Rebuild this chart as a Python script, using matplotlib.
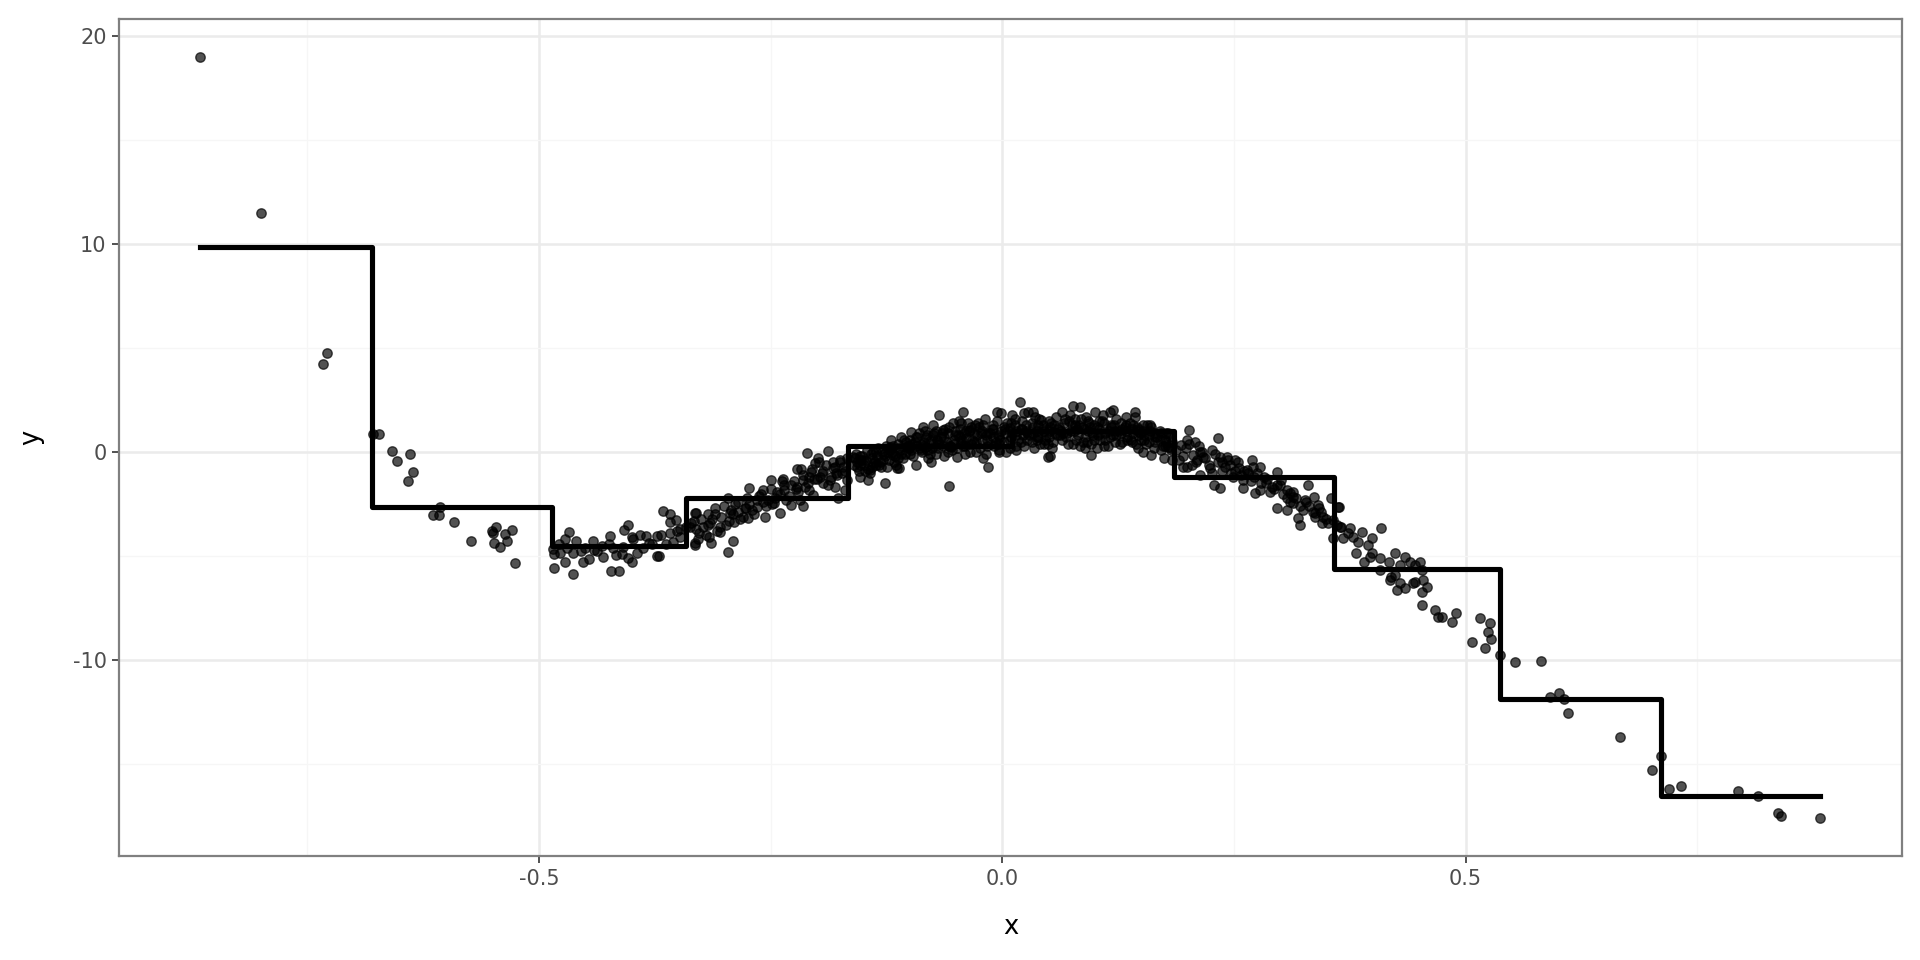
import matplotlib
matplotlib.use('Agg')
import matplotlib.pyplot as plt
from matplotlib.ticker import FixedLocator

# points, split by region of the curve
x_left = [-0.866, -0.800, -0.729, -0.733, -0.679, -0.673, -0.659, -0.653, -0.639, -0.636,
          -0.641, -0.607, -0.614, -0.608, -0.592, -0.573, -0.551, -0.550, -0.546, -0.537,
          -0.529, -0.548, -0.542, -0.534, -0.526]
y_left = [18.98, 11.48, 4.75, 4.25, 0.85, 0.85, 0.05, -0.43, -0.08, -0.96,
          -1.38, -2.63, -3.01, -3.03, -3.37, -4.26, -3.78, -3.88, -3.61, -3.94,
          -3.77, -4.39, -4.55, -4.28, -5.34]

x_trough = [-0.485, -0.484, -0.484, -0.472, -0.468, -0.472, -0.477, -0.463, -0.463, -0.455,
            -0.452, -0.446, -0.442, -0.437, -0.431, -0.423, -0.424, -0.417, -0.422, -0.414,
            -0.409, -0.408, -0.404, -0.400, -0.404, -0.399, -0.394, -0.391, -0.384, -0.381,
            -0.373, -0.373, -0.370, -0.366, -0.359, -0.358, -0.352, -0.363, -0.355, -0.351,
            -0.348, -0.341, -0.332, -0.332, -0.336,
            -0.478, -0.470, -0.460, -0.450, -0.440, -0.432, -0.420, -0.410, -0.398, -0.388,
            -0.378, -0.368, -0.358, -0.348]
y_trough = [-4.68, -4.89, -5.59, -4.18, -3.85, -5.29, -4.87, -4.87, -5.85, -4.75,
            -5.27, -5.14, -4.28, -4.77, -5.03, -4.04, -4.42, -4.95, -5.72, -5.74,
            -4.55, -3.75, -3.51, -4.07, -5.08, -5.29, -4.87, -3.99, -4.02, -4.39,
            -4.04, -5.00, -5.00, -2.82, -3.00, -3.35, -3.27, -4.44, -4.31, -3.78,
            -4.07, -3.59, -2.95, -4.39, -3.43,
            -4.4, -4.6, -4.3, -4.6, -4.7, -4.5, -4.6, -4.9, -4.2, -4.6,
            -4.4, -4.0, -3.9, -3.7]

x_rise = [-0.337, -0.330, -0.331, -0.327, -0.318, -0.316, -0.314, -0.310, -0.305, -0.296,
          -0.296, -0.291, -0.294, -0.289, -0.285, -0.276, -0.274, -0.273, -0.265, -0.258,
          -0.256, -0.250, -0.246, -0.240, -0.237, -0.235, -0.228, -0.222, -0.215, -0.222,
          -0.217, -0.215, -0.211, -0.208, -0.204, -0.206, -0.202, -0.199, -0.197, -0.193,
          -0.188, -0.186, -0.181, -0.177, -0.183, -0.179, -0.175, -0.172, -0.168, -0.170,
          -0.330, -0.325, -0.320, -0.315, -0.310, -0.305, -0.300, -0.295, -0.290, -0.285,
          -0.280, -0.275, -0.270, -0.265, -0.260, -0.255, -0.250, -0.245, -0.240, -0.235,
          -0.230, -0.225, -0.220, -0.215, -0.210, -0.205, -0.200, -0.195, -0.190, -0.185,
          -0.180, -0.175, -0.170,
          -0.328, -0.318, -0.308, -0.298, -0.288, -0.278, -0.268, -0.258, -0.248, -0.238,
          -0.228, -0.218, -0.208, -0.198, -0.188, -0.178,
          -0.333, -0.323, -0.313, -0.303, -0.293, -0.283, -0.273, -0.263, -0.253, -0.243,
          -0.233, -0.223, -0.213, -0.203, -0.193, -0.183, -0.173, -0.167]
y_rise = [-3.59, -2.95, -4.47, -3.91, -3.51, -4.07, -4.39, -2.71, -3.83, -2.23,
          -4.82, -4.26, -2.95, -3.35, -2.87, -2.71, -3.19, -1.75, -2.63, -1.83,
          -3.11, -1.35, -2.47, -2.95, -1.30, -1.83, -2.55, -1.67, -2.60, -0.83,
          -0.83, -1.35, -0.06, -1.83, -2.07, -0.95, -0.54, -0.27, -1.19, -1.51,
          0.05, -1.35, -1.67, -2.23, -0.79, -1.02, -0.47, -0.71, -1.35, -1.83,
          -3.7, -3.2, -4.0, -3.4, -3.0, -3.6, -2.6, -3.3, -3.0, -2.4,
          -3.1, -2.2, -2.8, -2.3, -2.0, -2.6, -1.8, -2.2, -2.0, -1.6,
          -2.1, -1.4, -1.9, -1.1, -1.5, -0.8, -1.3, -1.0, -0.6, -1.2,
          -0.7, -0.4, -0.9,
          -4.2, -3.0, -3.8, -3.5, -2.5, -2.7, -3.0, -2.4, -2.5, -1.4,
          -1.6, -2.3, -1.2, -0.5, -1.6, -1.1,
          -3.3, -3.6, -3.2, -3.1, -2.8, -3.2, -2.5, -2.1, -2.3, -1.9,
          -2.3, -1.8, -1.7, -1.3, -0.9, -0.5, -1.0, -0.3]

x_core = [-0.161, -0.157, -0.154, -0.150, -0.145, -0.143, -0.139, -0.136, -0.132, -0.127,
          -0.121, -0.118, -0.114, -0.111, -0.120, -0.109, -0.103, -0.098, -0.093, -0.086,
          -0.082, -0.075, -0.077, -0.068, -0.064, -0.057, -0.055, -0.049, -0.044, -0.042,
          -0.039, -0.035, -0.026, -0.021, -0.015, -0.010, -0.006, -0.001, -0.003, 0.008,
          0.015, 0.019, 0.023, 0.033, 0.037, 0.042, 0.049, 0.051, 0.076, 0.084,
          0.089, 0.096, 0.102, 0.120, 0.143, 0.143, 0.152, 0.161, 0.156, 0.174,
          0.179, 0.183,
          -0.158, -0.155, -0.152, -0.149, -0.146, -0.143, -0.140, -0.137, -0.134, -0.131,
          -0.128, -0.125, -0.122, -0.119, -0.116, -0.113, -0.110, -0.107, -0.104, -0.101,
          -0.157, -0.151, -0.145, -0.139, -0.133, -0.127, -0.121, -0.115, -0.109, -0.103,
          -0.099, -0.096, -0.093, -0.090, -0.087, -0.084, -0.081, -0.078, -0.075, -0.072,
          -0.069, -0.066, -0.063, -0.060, -0.057, -0.054, -0.051,
          -0.098, -0.092, -0.086, -0.080, -0.074, -0.068, -0.062, -0.056, -0.052,
          -0.097, -0.089, -0.083, -0.077, -0.071, -0.065, -0.059, -0.053,
          -0.049, -0.046, -0.043, -0.040, -0.037, -0.034, -0.031, -0.028, -0.025, -0.022,
          -0.019, -0.016, -0.013, -0.010, -0.007, -0.004, -0.001,
          -0.048, -0.042, -0.036, -0.030, -0.024, -0.018, -0.012, -0.006, -0.002,
          -0.047, -0.041, -0.035, -0.029, -0.023, -0.017, -0.011, -0.005,
          0.002, 0.005, 0.008, 0.011, 0.014, 0.017, 0.020, 0.023, 0.026, 0.029,
          0.032, 0.035, 0.038, 0.041, 0.044, 0.047, 0.050,
          0.003, 0.009, 0.015, 0.021, 0.027, 0.033, 0.039, 0.045, 0.049,
          0.004, 0.010, 0.016, 0.022, 0.028, 0.034, 0.040, 0.046,
          0.052, 0.055, 0.058, 0.061, 0.064, 0.067, 0.070, 0.073, 0.076, 0.079,
          0.082, 0.085, 0.088, 0.091, 0.094, 0.097, 0.100,
          0.053, 0.059, 0.065, 0.071, 0.077, 0.083, 0.089, 0.095, 0.099,
          0.054, 0.060, 0.066, 0.072, 0.078, 0.084, 0.090, 0.096,
          0.102, 0.105, 0.108, 0.111, 0.114, 0.117, 0.120, 0.123, 0.126, 0.129,
          0.132, 0.135, 0.138, 0.141, 0.144, 0.147, 0.150,
          0.103, 0.109, 0.115, 0.121, 0.127, 0.133, 0.139, 0.145, 0.149,
          0.104, 0.110, 0.116, 0.122, 0.128, 0.134, 0.140, 0.146,
          0.152, 0.155, 0.158, 0.161, 0.164, 0.167, 0.170, 0.173, 0.176, 0.179, 0.182,
          0.153, 0.159, 0.165, 0.171, 0.177, 0.183,
          -0.160, -0.154, -0.148, -0.142, -0.136, -0.130, -0.124, -0.118, -0.112, -0.106,
          -0.100, -0.094, -0.088, -0.082, -0.076, -0.070, -0.064, -0.058, -0.052, -0.046,
          -0.040, -0.034, -0.028, -0.022, -0.016, -0.010, -0.004, 0.002, 0.008, 0.014,
          0.020, 0.026, 0.032, 0.038, 0.044, 0.050, 0.056, 0.062, 0.068, 0.074,
          0.080, 0.086, 0.092, 0.098, 0.104, 0.110, 0.116, 0.122, 0.128, 0.134,
          0.140, 0.146, 0.152, 0.158, 0.164, 0.170, 0.176, 0.181,
          -0.159, -0.153, -0.147, -0.141, -0.135, -0.129, -0.123, -0.117, -0.111, -0.105,
          -0.099, -0.093, -0.087, -0.081, -0.075, -0.069, -0.063, -0.057, -0.051, -0.045,
          -0.039, -0.033, -0.027, -0.021, -0.015, -0.009, -0.003, 0.003, 0.009, 0.015,
          0.021, 0.027, 0.033, 0.039, 0.045, 0.051, 0.057, 0.063, 0.069, 0.075,
          0.081, 0.087, 0.093, 0.099, 0.105, 0.111, 0.117, 0.123, 0.129, 0.135,
          0.141, 0.147, 0.153, 0.159, 0.165, 0.171, 0.177, 0.182]
y_core = [-0.23, -0.71, -1.19, -0.38, -1.35, -0.87, -0.54, 0.01, -0.47, -1.51,
          0.25, -0.14, -0.79, -0.79, 0.58, 0.74, 0.25, 0.98, -0.63, 1.22,
          0.25, 1.30, -0.47, 1.78, 1.06, -1.63, 0.25, -0.23, 1.38, 1.94,
          0.66, 1.06, 1.38, -0.30, -0.74, 0.74, 1.94, 1.86, 0.01, 1.14,
          0.10, 2.42, 1.86, 1.94, 0.74, 1.54, -0.23, -0.19, 2.21, 2.15,
          0.18, -0.14, 0.18, 2.02, 1.94, 1.67, 0.01, -0.14, 1.30, -0.30,
          0.25, -0.38,
          -0.1, -0.9, -0.4, -0.6, 0.1, -1.0, -0.3, -0.5, 0.2, -0.7,
          -0.1, 0.3, -0.4, 0.0, -0.2, 0.4, 0.1, -0.3, 0.5, 0.2,
          -0.5, -0.2, -0.8, 0.0, -0.6, -0.2, 0.1, -0.6, -0.1, 0.3,
          0.6, -0.2, 0.3, 0.9, 0.0, 0.5, 0.8, -0.1, 0.4, 1.0,
          0.2, 0.7, -0.2, 0.5, 1.2, 0.1, 0.8,
          0.1, 0.7, 0.3, -0.3, 0.9, 0.4, 1.1, 0.3, 0.6,
          0.4, 0.2, 1.0, 0.6, -0.1, 0.9, 0.0, 1.4,
          0.2, 1.1, 0.6, -0.1, 1.4, 0.4, 0.9, 0.0, 1.2, 0.6,
          1.6, 0.3, 0.9, 1.3, 0.5, 0.1, 1.0,
          0.8, 0.3, 1.0, 0.5, 0.2, 0.8, 0.4, 1.5, 0.6,
          1.5, 0.9, 0.0, 1.3, 0.9, -0.1, 1.1, 0.8,
          0.5, 1.4, 0.2, 0.9, 1.6, 0.6, 1.1, 0.3, 1.3, 0.8,
          0.5, 1.7, 1.0, 0.4, 1.3, 0.8, 1.5,
          1.1, 0.7, 0.3, 1.5, 0.6, 1.2, 0.7, 1.0, 0.4,
          0.0, 1.8, 1.0, 0.8, 1.9, 0.2, 1.6, 0.6,
          1.0, 0.5, 1.7, 1.2, 0.6, 1.4, 0.9, 1.8, 0.4, 1.3,
          0.8, 1.6, 1.1, 0.5, 1.4, 0.9, 1.9,
          1.4, 0.8, 1.9, 0.4, 1.0, 1.3, 0.7, 1.2, 0.6,
          0.2, 1.1, 0.9, 1.5, 1.6, 0.3, 1.7, 0.4,
          1.2, 0.6, 1.5, 0.9, 0.3, 1.3, 0.8, 1.6, 1.0, 0.5,
          1.2, 0.7, 1.4, 0.9, 0.4, 1.1, 0.6,
          0.8, 1.8, 1.0, 1.3, 0.4, 1.7, 0.6, 1.2, 0.9,
          1.5, 0.3, 1.9, 0.5, 1.4, 1.0, 1.1, 0.2,
          1.0, 0.4, 0.8, 1.2, 0.2, 0.7, 1.0, 0.3, 0.6, 0.9, 0.1,
          0.6, 1.3, 0.5, 0.1, 0.9, 0.5,
          -0.6, -0.2, -0.9, -0.1, -0.6, 0.0, -0.7, 0.3, -0.3, 0.6,
          -0.1, 0.5, 0.1, 0.7, 0.2, 0.6, 0.3, 0.9, 0.4, 0.7,
          0.3, 1.2, 0.5, 1.0, 0.6, 1.1, 0.4, 1.2, 0.6, 1.3,
          0.5, 1.0, 1.4, 0.6, 1.1, 0.7, 1.3, 0.8, 1.6, 1.0,
          0.6, 1.2, 1.5, 0.8, 1.1, 1.4, 0.7, 1.0, 0.9, 1.3,
          0.5, 0.8, 1.3, 0.5, 0.9, 0.6, 0.3, 0.7,
          -0.3, -0.6, -0.4, -0.7, -0.2, -0.4, 0.0, -0.5, 0.2, -0.1,
          0.3, 0.7, 0.4, 0.1, 0.8, 0.5, 0.7, 0.3, 1.0, 0.5,
          1.0, 0.6, 0.8, 1.3, 0.9, 0.3, 0.7, 0.9, 1.4, 0.8,
          1.1, 0.9, 0.9, 1.3, 0.4, 1.2, 0.9, 1.0, 0.7, 1.3,
          1.1, 0.5, 1.0, 1.3, 0.9, 0.6, 1.2, 0.8, 1.1, 0.6,
          1.3, 1.0, 0.8, 1.0, 0.7, 0.9, 0.5, 0.2]

x_fall = [0.202, 0.199, 0.193, 0.208, 0.213, 0.217, 0.195, 0.199, 0.206, 0.210,
          0.213, 0.224, 0.226, 0.233, 0.235, 0.237, 0.242, 0.228, 0.235, 0.246,
          0.249, 0.251, 0.256, 0.260, 0.264, 0.269, 0.271, 0.278, 0.260, 0.273,
          0.278, 0.285, 0.291, 0.296, 0.301, 0.307, 0.310, 0.314, 0.296, 0.307,
          0.314, 0.319, 0.321, 0.327, 0.330, 0.336, 0.337, 0.341, 0.345, 0.346,
          0.355, 0.357, 0.363, 0.364,
          0.188, 0.195, 0.202, 0.209, 0.216, 0.223, 0.230, 0.237, 0.244, 0.251,
          0.258, 0.265, 0.272, 0.279, 0.286, 0.293, 0.300, 0.307, 0.314, 0.321,
          0.328, 0.335, 0.342, 0.349,
          0.191, 0.198, 0.205, 0.212, 0.219, 0.226, 0.233, 0.240, 0.247, 0.254,
          0.261, 0.268, 0.275, 0.282, 0.289, 0.296, 0.303, 0.310, 0.317, 0.324,
          0.331, 0.338, 0.344, 0.352]
y_fall = [1.06, 0.58, 0.34, 0.50, 0.01, -0.23, -0.74, -0.74, -0.14, -0.38,
          -1.11, -0.79, 0.10, 0.66, -0.23, -0.47, -0.23, -1.59, -1.75, -0.63,
          -1.19, -0.38, -0.79, -1.35, -0.87, -0.38, -0.71, -0.71, -1.75, -1.99,
          -1.83, -1.51, -1.67, -0.95, -1.35, -1.83, -1.99, -2.15, -2.71, -2.79,
          -2.47, -3.19, -3.51, -2.31, -1.59, -2.15, -2.95, -2.55, -3.43, -3.11,
          -2.23, -4.15, -2.63, -3.59,
          0.1, -0.2, 0.4, -0.5, 0.0, -0.6, -0.1, -0.9, -0.4, -0.9,
          -1.1, -1.0, -1.2, -1.5, -1.3, -1.8, -1.6, -2.2, -1.9, -2.6,
          -2.4, -2.9, -2.7, -3.2,
          -0.4, 0.2, -0.6, 0.3, -0.3, -1.0, -0.5, -0.7, -1.0, -0.5,
          -0.9, -1.4, -1.0, -1.2, -1.9, -1.6, -2.0, -2.4, -2.2, -2.8,
          -2.6, -3.1, -2.9, -3.4]

x_desc = [0.362, 0.357, 0.361, 0.366, 0.368, 0.375, 0.373, 0.379, 0.388, 0.384,
          0.382, 0.390, 0.395, 0.399, 0.399, 0.397, 0.408, 0.408, 0.409, 0.417,
          0.420, 0.418, 0.424, 0.426, 0.429, 0.435, 0.424, 0.435, 0.429, 0.440,
          0.445, 0.451, 0.453, 0.445, 0.443, 0.454, 0.458, 0.453, 0.453, 0.467,
          0.470, 0.474, 0.485, 0.490, 0.515, 0.526, 0.524, 0.527, 0.507, 0.521,
          0.537, 0.553, 0.581]
y_desc = [-2.66, -3.27, -3.51, -3.62, -4.15, -3.67, -3.91, -4.07, -3.83, -4.31,
          -4.87, -5.27, -4.47, -4.15, -4.87, -5.03, -5.11, -5.67, -3.67, -5.27,
          -5.99, -6.15, -5.91, -6.63, -6.31, -6.55, -4.87, -5.03, -5.43, -5.27,
          -5.43, -5.27, -5.67, -6.23, -6.31, -6.15, -6.47, -6.72, -7.36, -7.60,
          -7.92, -7.92, -8.16, -7.72, -7.99, -8.20, -8.64, -8.99, -9.12, -9.44,
          -9.76, -10.08, -10.03]

x_right = [0.591, 0.601, 0.606, 0.610, 0.667, 0.711, 0.701, 0.719, 0.732, 0.794,
           0.815, 0.837, 0.840, 0.882]
y_right = [-11.79, -11.60, -11.89, -12.56, -13.69, -14.62, -15.30, -16.20, -16.07, -16.28,
           -16.52, -17.37, -17.50, -17.58]

# step fit: bin edges and the level in each bin
step_edges = [-0.866, -0.680, -0.486, -0.341, -0.166, 0.010, 0.185, 0.358, 0.537, 0.711, 0.882]
step_levels = [9.86, -2.63, -4.50, -2.23, 0.29, 1.02, -1.19, -5.64, -11.86, -16.52]

xs = x_left + x_trough + x_rise + x_core + x_fall + x_desc + x_right
ys = y_left + y_trough + y_rise + y_core + y_fall + y_desc + y_right

fig = plt.figure(figsize=(19.2, 9.6), dpi=100)
ax = fig.add_axes([0.062, 0.1083, 0.9285, 0.8716])

ax.scatter(xs, ys, s=46, color='black', alpha=0.68, linewidths=1.0, zorder=3)
ax.step(step_edges, step_levels + [step_levels[-1]], where='post',
        color='black', lw=3.7, zorder=4)

ax.set_xlim(-0.953, 0.9706)
ax.set_ylim(-19.42, 20.8)
ax.set_xticks([-0.5, 0.0, 0.5])
ax.set_xticklabels(['-0.5', '0.0', '0.5'])
ax.set_yticks([-10, 0, 10, 20])
ax.set_yticklabels(['-10', '0', '10', '20'])
ax.xaxis.set_minor_locator(FixedLocator([-0.75, -0.25, 0.25, 0.75]))
ax.yaxis.set_minor_locator(FixedLocator([-15, -5, 5, 15]))

ax.set_axisbelow(True)
ax.grid(which='major', color='#EBEBEB', lw=1.8)
ax.grid(which='minor', color='#F6F6F6', lw=0.9)
ax.tick_params(which='major', length=5, width=1.2, color='#333333',
               labelsize=15, labelcolor='#4D4D4D', pad=4)
ax.tick_params(which='minor', length=0)
for sp in ax.spines.values():
    sp.set_color('#808080')
    sp.set_linewidth(1.6)

ax.set_xlabel('x', fontsize=18.5, labelpad=18)
ax.set_ylabel('y', fontsize=18.5, labelpad=20)

fig.savefig('out.png', dpi=100, facecolor='white')
